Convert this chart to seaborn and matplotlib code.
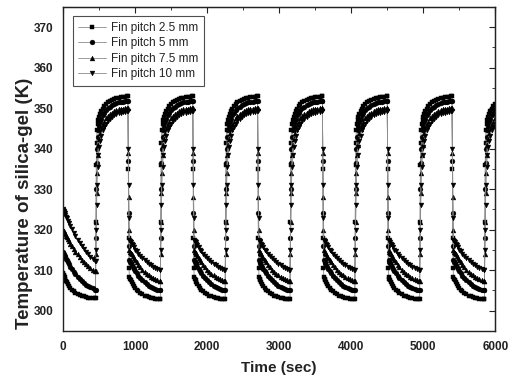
import numpy as np
import pandas as pd
import matplotlib.pyplot as plt
import seaborn as sns

series = ["Fin pitch 2.5 mm", "Fin pitch 5 mm", "Fin pitch 7.5 mm", "Fin pitch 10 mm"]
marks = ["s", "o", "^", "v"]

# sample times inside one half cycle (s)
phase_t = [0, 5, 10, 15, 20, 30, 40, 50, 65, 80, 100, 120, 145, 170, 200,
           230, 260, 290, 320, 350, 380, 410, 440]
half = 450

# first cooling period (0-450 s)
first_25 = [309.2, 308.9, 308.7, 308.5, 308.2, 307.8, 307.4, 307.1, 306.6, 306.1, 305.6, 305.2,
            304.8, 304.4, 304.1, 303.8, 303.6, 303.5, 303.3, 303.2, 303.2, 303.1, 303.1]
first_5 = [314.5, 314.3, 314.1, 313.85, 313.6, 313.2, 312.8, 312.5, 311.9, 311.4, 310.8, 310.2,
           309.6, 309.0, 308.3, 307.8, 307.3, 306.8, 306.4, 306.1, 305.75, 305.5, 305.2]
first_75 = [320.0, 319.8, 319.6, 319.4, 319.2, 318.9, 318.5, 318.2, 317.6, 317.2, 316.5, 315.9,
            315.2, 314.6, 313.9, 313.2, 312.6, 312.0, 311.5, 311.0, 310.5, 310.1, 309.7]
first_10 = [325.0, 324.8, 324.5, 324.3, 324.1, 323.6, 323.2, 322.8, 322.15, 321.6, 320.8, 320.1,
            319.2, 318.4, 317.5, 316.7, 315.9, 315.2, 314.5, 313.9, 313.35, 312.8, 312.3]

# heating periods
heat_25 = [303.0, 322.0, 336.0, 341.5, 344.5, 346.0, 347.0, 347.7, 348.5, 349.2, 349.9, 350.5,
           351.0, 351.4, 351.8, 352.1, 352.3, 352.5, 352.6, 352.7, 352.8, 352.8, 352.9]
heat_5 = [305.3, 318.0, 330.0, 336.5, 340.0, 343.0, 344.5, 345.5, 346.5, 347.3, 348.2, 348.9,
          349.5, 350.0, 350.4, 350.7, 351.0, 351.2, 351.4, 351.5, 351.6, 351.7, 351.8]
heat_75 = [307.4, 314.0, 322.0, 329.0, 334.0, 338.5, 341.0, 342.5, 343.8, 344.8, 345.9, 346.7,
           347.5, 348.0, 348.5, 348.9, 349.2, 349.5, 349.7, 349.8, 349.9, 350.0, 350.1]
heat_10 = [310.1, 315.0, 320.0, 326.0, 331.0, 335.5, 338.5, 340.5, 342.0, 343.2, 344.5, 345.4,
           346.2, 346.8, 347.4, 347.8, 348.2, 348.5, 348.7, 348.9, 349.0, 349.1, 349.2]

# cooling periods after the first one
cool_25 = [352.9, 335.0, 318.0, 310.5, 308.3, 307.9, 307.5, 307.1, 306.6, 306.2, 305.7, 305.2,
           304.8, 304.4, 304.0, 303.7, 303.5, 303.3, 303.2, 303.05, 302.95, 302.9, 302.8]
cool_5 = [351.8, 337.0, 324.0, 316.0, 312.5, 312.1, 311.7, 311.3, 310.8, 310.3, 309.7, 309.2,
          308.5, 308.0, 307.5, 307.0, 306.6, 306.2, 305.9, 305.6, 305.4, 305.2, 305.0]
cool_75 = [350.1, 339.0, 328.0, 320.0, 315.0, 314.6, 314.3, 313.9, 313.4, 313.0, 312.4, 311.9,
           311.3, 310.7, 310.1, 309.6, 309.1, 308.7, 308.4, 308.0, 307.75, 307.5, 307.3]
cool_10 = [349.2, 340.0, 331.0, 323.0, 317.5, 317.2, 316.85, 316.5, 316.1, 315.7, 315.1, 314.65,
           314.1, 313.55, 313.0, 312.5, 312.0, 311.6, 311.25, 310.9, 310.6, 310.35, 310.1]

firsts = [first_25, first_5, first_75, first_10]
heats = [heat_25, heat_5, heat_75, heat_10]
cools = [cool_25, cool_5, cool_75, cool_10]

rows = []
for name, f, h, c in zip(series, firsts, heats, cools):
    last = f[-1]
    for k in range(14):
        if k == 0:
            vals = list(f)
        elif k % 2 == 1:
            vals = list(h)
            vals[0] = last
        else:
            vals = list(c)
        for tt, v in zip(phase_t, vals):
            t = k * half + tt
            if t <= 6000:
                rows.append((name, t, v))
        last = vals[-1]
df = pd.DataFrame(rows, columns=["series", "t", "T"])

sns.set_style("white")
plt.rcParams["font.family"] = ["Liberation Sans", "DejaVu Sans"]

fig = plt.figure(figsize=(5.09, 3.83), dpi=100)
ax = fig.add_axes([0.124, 0.136, 0.849, 0.846])

sns.lineplot(data=df, x="t", y="T", hue="series", style="series",
             markers=dict(zip(series, marks)), dashes=False,
             palette=["k"] * 4, estimator=None, sort=False,
             markersize=3.5, linewidth=0.6, legend=False, ax=ax)

for line in ax.lines:
    line.set_color("0.55")
    line.set_markerfacecolor("k")
    line.set_markeredgecolor("k")
    line.set_markeredgewidth(0.3)

ax.set_xlim(0, 6000)
ax.set_ylim(295, 375)
ax.set_xticks(range(0, 6001, 1000))
ax.set_xticks(range(500, 6000, 1000), minor=True)
ax.set_yticks(range(300, 371, 10))
ax.set_yticks(range(305, 375, 10), minor=True)

for sp in ax.spines.values():
    sp.set_color("#222")
    sp.set_linewidth(1.0)

ax.tick_params(which="major", direction="out", length=4, width=1, color="#222",
               labelsize=8.5, labelcolor="#222", pad=3)
ax.tick_params(which="minor", direction="out", length=2.5, width=0.8, color="#222")
for lab in ax.get_xticklabels() + ax.get_yticklabels():
    lab.set_fontweight("bold")

top = ax.secondary_xaxis("top")
top.set_xticks(range(0, 6001, 1000))
top.set_xticks(range(500, 6000, 1000), minor=True)
top.tick_params(which="both", direction="in", labeltop=False, color="#222")
top.tick_params(which="major", length=4)
top.tick_params(which="minor", length=2.5)
right = ax.secondary_yaxis("right")
right.set_yticks(range(300, 371, 10))
right.set_yticks(range(305, 375, 10), minor=True)
right.tick_params(which="both", direction="in", labelright=False, color="#222")
right.tick_params(which="major", length=4)
right.tick_params(which="minor", length=2.5)

ax.set_xlabel("Time (sec)", fontsize=11, fontweight="bold", color="#222", labelpad=6)
ax.set_ylabel("Temperature of silica-gel (K)", fontsize=13.5, fontweight="bold",
              color="#222")
ax.yaxis.set_label_coords(-0.069, 0.395)

leg = ax.legend(ax.lines, series, loc="upper left", fontsize=8.5, frameon=True,
                fancybox=False, edgecolor="#222", borderaxespad=0.8,
                handlelength=2.4, handletextpad=0.4, labelspacing=0.3,
                borderpad=0.45)
leg.get_frame().set_linewidth(0.8)
for txt in leg.get_texts():
    txt.set_color("#222")

fig.savefig("out.png", dpi=100)
